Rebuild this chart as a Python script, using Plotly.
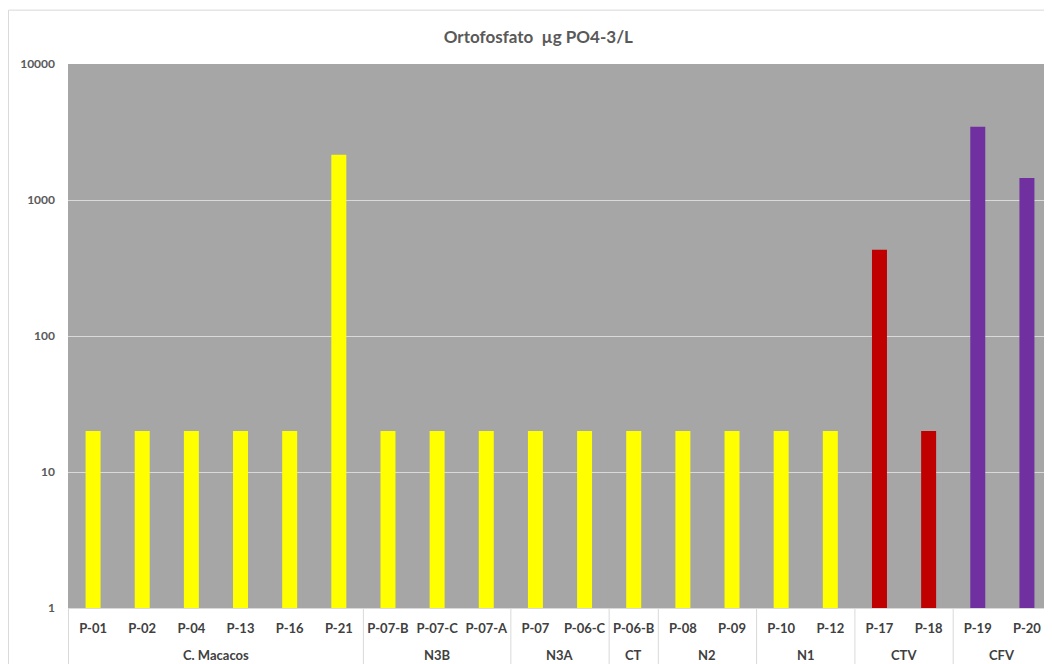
"""
Ortofosfato por ponto de amostragem (escala log)
"""

import plotly.graph_objects as go

# dados
grupos = ['C. Macacos'] * 6 + ['N3B'] * 3 + ['N3A'] * 2 + ['CT'] + ['N2'] * 2 + ['N1'] * 2 + ['CTV'] * 2 + ['CFV'] * 2
pontos = ['P-01', 'P-02', 'P-04', 'P-13', 'P-16', 'P-21',
          'P-07-B', 'P-07-C', 'P-07-A',
          'P-07', 'P-06-C',
          'P-06-B',
          'P-08', 'P-09',
          'P-10', 'P-12',
          'P-17', 'P-18',
          'P-19', 'P-20']
valores = [20, 20, 20, 20, 20, 2150,
           20, 20, 20,
           20, 20,
           20,
           20, 20,
           20, 20,
           430, 20,
           3450, 1450]
cores_grupo = {'CTV': '#C00000', 'CFV': '#7030A0'}
cores = [cores_grupo.get(g, '#FFFF00') for g in grupos]

fonte = 'Lato'
cor_linha = '#D9D9D9'

fig = go.Figure()
fig.add_trace(go.Bar(
    x=pontos,
    y=valores,
    marker=dict(color=cores, line=dict(width=0)),
    showlegend=False
))

fig.update_layout(
    width=1044,
    height=656,
    margin=dict(l=60, r=0, t=56, b=56),
    paper_bgcolor='white',
    plot_bgcolor='#A6A6A6',
    bargap=0.695,
    title=dict(
        text='Ortofosfato  µg PO4-3/L',
        x=0.478, xref='paper', xanchor='center',
        y=0.956, yref='container', yanchor='middle',
        font=dict(family=fonte, size=17, color='#595959', weight='bold')
    ),
    font=dict(family=fonte, color='#404040'),
)

fig.update_xaxes(
    type='category',
    tickfont=dict(family=fonte, size=13, color='#404040', weight='bold'),
    showline=True,
    linecolor=cor_linha,
    ticks='',
    ticklabelstandoff=8,
    automargin=False,
)

fig.update_yaxes(
    type='log',
    range=[0, 4],
    tickvals=[1, 10, 100, 1000, 10000],
    ticktext=['1', '10', '100', '1000', '10000'],
    tickfont=dict(family=fonte, size=12, color='#595959', weight='bold'),
    showgrid=True,
    gridcolor=cor_linha,
    gridwidth=1,
    zeroline=False,
    ticks='',
    ticklabelstandoff=12,
    automargin=False,
)

# rótulos dos grupos e divisores
inicio = 0
for i in range(1, len(grupos) + 1):
    if i == len(grupos) or grupos[i] != grupos[inicio]:
        fig.add_annotation(
            x=(inicio + i - 1) / 2, xref='x',
            y=-0.0864, yref='paper', yanchor='middle',
            text=grupos[inicio], showarrow=False,
            font=dict(family=fonte, size=13, color='#404040', weight='bold')
        )
        inicio = i
limites = [-0.5] + [i - 0.5 for i in range(1, len(grupos)) if grupos[i] != grupos[i - 1]] + [len(grupos) - 0.5]
for xb in limites:
    fig.add_shape(type='line', xref='x', yref='paper',
                  x0=xb, x1=xb, y0=0, y1=-0.103,
                  line=dict(color=cor_linha, width=1))

# borda do gráfico
fig.add_shape(type='rect', xref='paper', yref='paper',
              x0=-0.0605, x1=1.02, y0=-0.2, y1=1.099,
              line=dict(color=cor_linha, width=1), fillcolor='rgba(0,0,0,0)',
              layer='below')

fig.write_html('out.html')
